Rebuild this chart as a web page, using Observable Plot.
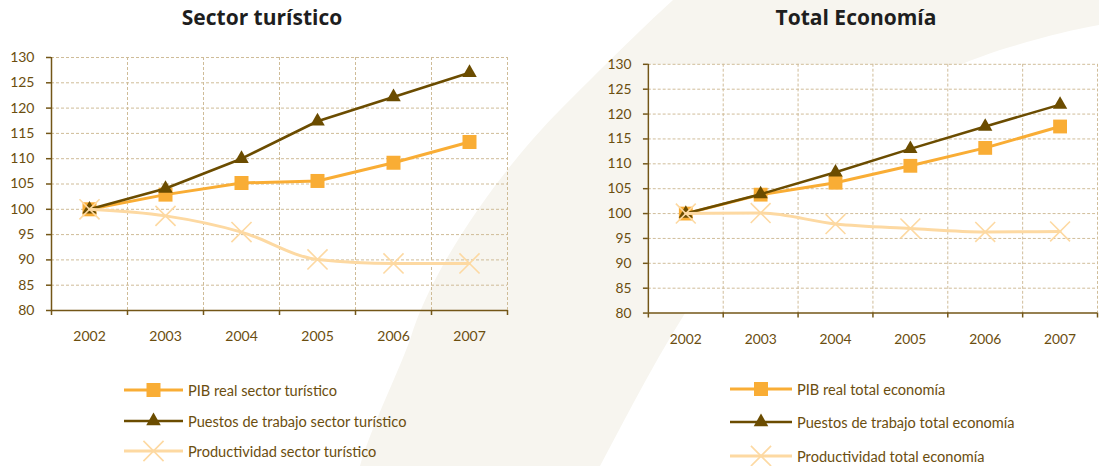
<!DOCTYPE html>
<html>
<head>
<meta charset="utf-8">
<script src="https://cdn.jsdelivr.net/npm/d3@7"></script>
<script src="https://cdn.jsdelivr.net/npm/@observablehq/plot@0.6"></script>
<style>
  html, body { margin: 0; padding: 0; background: #ffffff; overflow: hidden; }
  #root { position: relative; width: 1099px; height: 466px; overflow: hidden; font-family: Lato, "Open Sans", sans-serif; }
  .abs { position: absolute; }
  .title { position: absolute; font-family: "Open Sans", Lato, sans-serif; font-weight: 700; font-size: 21px; color: #1e1e1e; transform: translate(-50%, -50%); white-space: nowrap; }
  .leg-row { position: absolute; display: flex; align-items: center; height: 20px; transform: translateY(-50%); white-space: nowrap; }
  .leg-row span { font-size: 14.6px; color: #6b4e0f; margin-left: 5px; }
</style>
</head>
<body>
<div id="root">
  <svg class="abs" style="left:0;top:0" width="1099" height="466">
    <path d="M673,0 C640,30 600,70 560,110 C500,170 430,270 410,340 C395,380 370,430 360,466 L600,466 C630,410 660,350 700,290 C780,180 850,100 1000,50 C1040,38 1070,30 1099,25 L1099,0 Z" fill="#f7f5ef"/>
  </svg>
  <div id="left" class="abs" style="left:0;top:40px"></div>
  <div id="right" class="abs" style="left:560px;top:50px"></div>
  <div class="title" style="left:262px;top:17px">Sector turístico</div>
  <div class="title" style="left:856px;top:17px">Total Economía</div>
  <div id="legL"></div>
  <div id="legR"></div>
</div>
<script>
// ---- Data ----
const years = [2002, 2003, 2004, 2005, 2006, 2007];
const yTicks = [80, 85, 90, 95, 100, 105, 110, 115, 120, 125, 130];

const turPib  = [100, 102.9, 105.2, 105.6, 109.2, 113.3];
const turEmp  = [100, 104.1, 110.0, 117.4, 122.2, 127.0];
const turProd = [100, 98.7, 95.5, 90.1, 89.3, 89.3];

const ecoPib  = [100, 103.8, 106.2, 109.6, 113.2, 117.5];
const ecoEmp  = [100, 103.9, 108.3, 113.0, 117.5, 121.9];
const ecoProd = [100, 100.1, 97.9, 97.0, 96.3, 96.4];

const namesTur = ["PIB real sector turístico", "Puestos de trabajo sector turístico", "Productividad sector turístico"];
const namesEco = ["PIB real total economía", "Puestos de trabajo total economía", "Productividad total economía"];

// ---- Styles ----
const styles = [
  {color: "#f9ad35", symbol: "square", r: 7.9, width: 3, filled: true, curve: "linear"},
  {color: "#6b4c00", symbol: "triangle", r: 5.4, width: 2.6, filled: true, curve: "linear"},
  {color: "#fdd9a2", symbol: "times", r: 9.2, width: 3, filled: false, curve: "monotone-x"}
];
const gridColor = "#cfbc98";
const axisColor = "#735617";
const textColor = "#6b4e0f";

const edges = years.map(y => y - 0.5).concat([years[years.length - 1] + 0.5]);

function panel({series, width, height, marginLeft, marginRight, marginTop, marginBottom, whiteFrame}) {
  const marks = [];
  if (whiteFrame) marks.push(Plot.frame({fill: "white", stroke: null}));
  marks.push(
    Plot.gridY(yTicks.slice(1), {stroke: gridColor, strokeOpacity: 1, strokeWidth: 1, strokeDasharray: "3,2"}),
    Plot.gridX(edges.slice(1), {stroke: gridColor, strokeOpacity: 1, strokeWidth: 1, strokeDasharray: "3,2"}),
    Plot.ruleY([yTicks[0]], {stroke: axisColor, strokeWidth: 1.5}),
    Plot.ruleX([edges[0]], {stroke: axisColor, strokeWidth: 1.5}),
    Plot.axisY(yTicks, {tickSize: 5, tickPadding: 12, stroke: axisColor, strokeWidth: 1.5, fill: textColor, fontSize: 14, label: null}),
    Plot.axisX(edges, {tickSize: 5, tickFormat: () => "", stroke: axisColor, strokeWidth: 1.5, label: null}),
    Plot.axisX(years, {tickSize: 0, tickPadding: 21, tickFormat: d => String(d), fill: textColor, fontSize: 14, label: null})
  );
  series.forEach((vals, i) => {
    const st = styles[i];
    const data = years.map((yr, k) => ({year: yr, value: vals[k]}));
    marks.push(Plot.line(data, {x: "year", y: "value", stroke: st.color, strokeWidth: st.width, curve: st.curve}));
    if (st.filled) {
      marks.push(Plot.dot(data, {x: "year", y: "value", symbol: st.symbol, r: st.r, fill: st.color, stroke: null}));
    } else {
      marks.push(Plot.dot(data, {x: "year", y: "value", symbol: st.symbol, r: st.r, fill: "none", stroke: st.color, strokeWidth: 1.6}));
    }
  });
  return Plot.plot({
    width, height, marginLeft, marginRight, marginTop, marginBottom,
    style: {fontFamily: "Lato, 'Open Sans', sans-serif", fontSize: "14px", color: textColor, background: "transparent", overflow: "visible"},
    x: {domain: [edges[0], edges[edges.length - 1]], axis: null},
    y: {domain: [yTicks[0], yTicks[yTicks.length - 1]], axis: null},
    marks
  });
}

document.getElementById("left").appendChild(panel({
  series: [turPib, turEmp, turProd],
  width: 520, height: 310, marginLeft: 51, marginRight: 13, marginTop: 17, marginBottom: 40, whiteFrame: false
}));
document.getElementById("right").appendChild(panel({
  series: [ecoPib, ecoEmp, ecoProd],
  width: 546, height: 306, marginLeft: 89, marginRight: 2, marginTop: 14, marginBottom: 40, whiteFrame: true
}));

// ---- Legends ----
function legend(containerId, names, x0, swatchW, rowsY) {
  const root = d3.select("#" + containerId);
  names.forEach((name, i) => {
    const st = styles[i];
    const row = root.append("div").attr("class", "leg-row")
      .style("left", x0 + "px").style("top", rowsY[i] + "px");
    const svg = row.append("svg").attr("width", swatchW).attr("height", 20).style("overflow", "visible");
    svg.append("line").attr("x1", 0).attr("x2", swatchW).attr("y1", 10).attr("y2", 10)
      .attr("stroke", st.color).attr("stroke-width", st.width);
    const sym = {square: d3.symbolSquare, triangle: d3.symbolTriangle, times: d3.symbolTimes}[st.symbol];
    const p = svg.append("path")
      .attr("d", d3.symbol(sym, Math.PI * st.r * st.r)())
      .attr("transform", `translate(${swatchW / 2},10)`);
    if (st.filled) p.attr("fill", st.color);
    else p.attr("fill", "none").attr("stroke", st.color).attr("stroke-width", 1.6);
    row.append("span").text(name);
  });
}
legend("legL", namesTur, 124, 59, [390, 421, 451]);
legend("legR", namesEco, 730, 62, [389, 422, 456]);
</script>
</body>
</html>
